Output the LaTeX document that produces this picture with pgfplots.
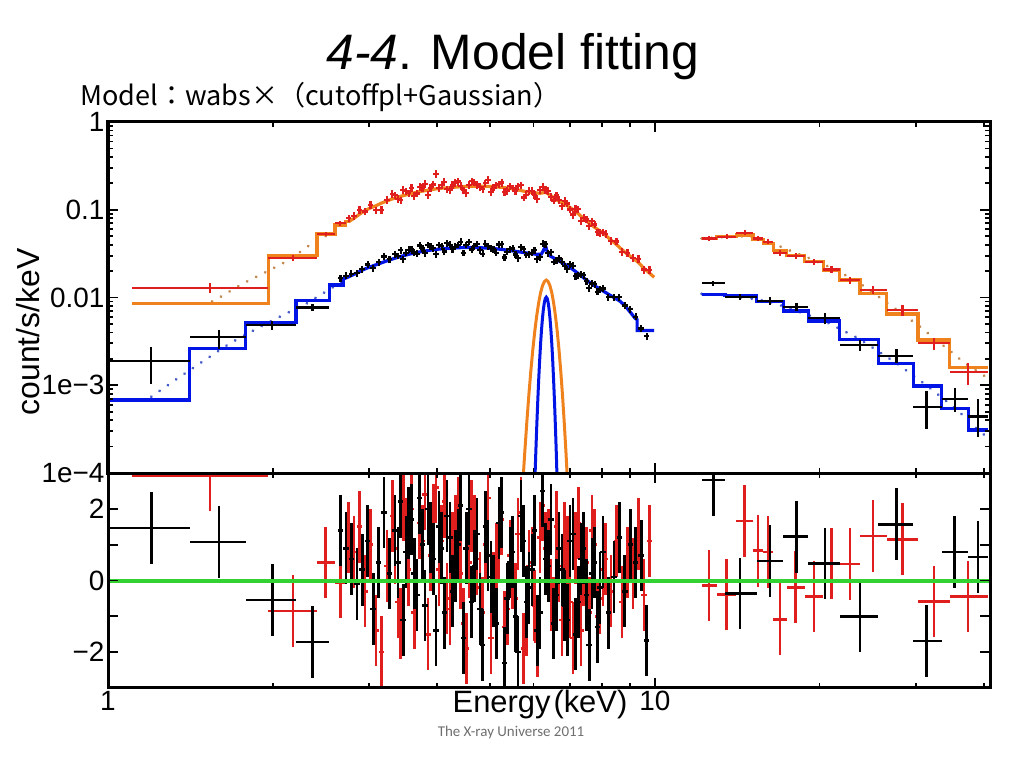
\documentclass[border=0pt]{standalone}
\usepackage{fontspec}
\setmainfont{Liberation Sans}
\newfontfamily\cjk{Noto Sans CJK JP}
\newfontfamily\footfont{Carlito}
\usepackage{graphicx}
\usepackage{pgfplots}
\usepackage{pgfplotstable}
\pgfplotsset{compat=1.18}
\definecolor{dred}{RGB}{225,30,30}
\definecolor{orangem}{RGB}{240,130,30}
\definecolor{browndot}{RGB}{195,135,80}
\definecolor{bluem}{RGB}{0,20,230}
\definecolor{bluedot}{RGB}{70,90,200}
\definecolor{greenl}{RGB}{50,210,50}
\definecolor{footgray}{RGB}{110,110,110}

\pgfplotstableread{
E y r
2.754 0.0800 1.2
2.818 0.0851 0.8
2.884 0.0997 1.5
2.951 0.0956 -0.3
3.020 0.1134 1.0
3.090 0.0986 -1.4
3.162 0.1000 -2.0
3.236 0.1300 0.4
3.311 0.1522 1.8
3.388 0.1323 -0.6
3.467 0.1694 2.1
3.548 0.1536 0.3
3.631 0.1448 -0.9
3.715 0.1816 1.6
3.802 0.1967 2.4
3.890 0.1785 0.7
3.981 0.2550 2.6
4.074 0.1915 1.1
4.169 0.1709 -0.5
4.266 0.1930 0.9
4.365 0.2097 1.9
4.467 0.1663 -1.2
4.571 0.1924 0.5
4.677 0.2057 1.4
4.786 0.1820 -0.2
4.898 0.1998 1.0
5.012 0.1604 -1.6
5.129 0.1907 0.6
5.248 0.2045 1.7
5.370 0.1657 -0.8
5.495 0.1758 0.2
5.623 0.1855 1.3
5.754 0.1382 -1.9
5.888 0.1641 0.4
6.026 0.1473 -0.7
6.166 0.1688 1.2
6.310 0.1694 0.9
6.457 0.1404 -0.4
6.607 0.1456 1.5
6.761 0.1094 -1.1
6.918 0.1181 0.8
7.079 0.0881 -1.6
7.244 0.1015 1.6
7.413 0.0809 0.3
7.586 0.0650 -0.9
7.762 0.0680 1.0
7.943 0.0547 -0.5
8.128 0.0534 0.6
8.318 0.0439 -0.3
8.511 0.0435 1.1
8.710 0.0333 -0.6
8.913 0.0322 0.5
9.120 0.0284 0.2
9.333 0.0276 1.3
9.550 0.0208 -0.4
9.772 0.0207 1.1
3.350 0.1458 0.9
3.428 0.1284 -1.2
3.508 0.1628 1.3
3.589 0.1775 2.0
3.673 0.1534 -0.4
3.758 0.1773 1.1
3.846 0.1470 -1.5
3.936 0.1943 1.7
4.027 0.1787 0.3
4.121 0.2082 2.2
4.217 0.1675 -0.8
4.315 0.2013 1.4
4.416 0.1859 0.2
4.519 0.1565 -1.9
4.624 0.2116 1.8
4.732 0.1939 0.6
4.842 0.1717 -0.9
4.955 0.2184 2.3
5.070 0.1801 -0.2
5.188 0.1955 1.0
5.309 0.1599 -1.3
5.433 0.1848 0.7
5.559 0.1637 -0.5
5.689 0.1907 1.9
5.821 0.1468 -1.1
5.957 0.1638 0.5
6.095 0.1339 -1.7
6.237 0.1822 2.1
6.383 0.1636 1.0
6.531 0.1276 -0.9
6.683 0.1290 0.4
6.839 0.1266 1.2
6.998 0.1009 -0.6
7.161 0.1024 0.9
7.328 0.0750 -1.4
7.499 0.0775 0.5
7.674 0.0739 1.4
7.852 0.0552 -1.0
8.035 0.0553 0.3
}\reddense

\pgfplotstableread{
E y r
2.661 0.01668 1.4
2.723 0.01769 0.9
2.786 0.01865 0.6
2.851 0.01885 -0.1
2.917 0.02099 0.3
2.985 0.02372 1.1
3.055 0.02153 -0.8
3.126 0.02517 0.5
3.199 0.02938 1.9
3.273 0.02723 0.2
3.350 0.03125 1.4
3.428 0.03446 2.2
3.508 0.03245 0.8
3.589 0.03590 1.7
3.673 0.03156 -0.4
3.758 0.03618 1.0
3.846 0.03979 2.0
3.936 0.03668 0.6
4.027 0.03987 1.5
4.121 0.03350 -0.9
4.217 0.04000 1.2
4.315 0.03798 0.4
4.416 0.04322 2.1
4.519 0.03977 0.9
4.624 0.03532 -0.6
4.732 0.04085 1.3
4.842 0.03150 -1.8
4.955 0.03854 0.7
5.070 0.03523 -0.3
5.188 0.04016 1.6
5.309 0.02856 -2.3
5.433 0.03567 0.5
5.559 0.03091 -1.0
5.689 0.03764 1.8
5.821 0.03065 -0.6
5.957 0.03236 0.3
6.095 0.02753 -1.4
6.237 0.04100 2.5
6.383 0.03199 0.4
6.531 0.02549 -1.2
6.683 0.02787 0.9
6.839 0.02266 -0.7
6.998 0.02394 1.1
7.161 0.01742 -1.5
7.328 0.01855 0.6
7.499 0.01529 -0.4
7.674 0.01443 0.2
7.852 0.01165 -1.3
8.035 0.01266 0.8
8.222 0.01012 -0.9
8.414 0.01008 0.1
8.610 0.01008 1.2
8.810 0.00810 -0.3
9.016 0.00734 1.0
9.226 0.00603 0.5
9.441 0.00444 0.7
9.661 0.00364 -1.67
3.388 0.02985 0.5
3.467 0.02727 -1.1
3.548 0.03502 1.6
3.631 0.03261 0.2
3.715 0.03913 2.3
3.802 0.03200 -0.7
3.890 0.03798 1.2
3.981 0.03135 -1.4
4.074 0.03843 0.9
4.169 0.04153 1.8
4.266 0.03577 -0.3
4.365 0.03985 1.0
4.467 0.03231 -1.6
4.571 0.04304 2.0
4.677 0.03824 0.4
4.786 0.03454 -0.8
4.898 0.04105 1.5
5.012 0.03659 0.1
5.129 0.03241 -1.2
5.248 0.04067 1.9
5.370 0.03326 -0.5
5.495 0.03612 0.8
5.623 0.02793 -2.0
5.754 0.03541 1.1
5.888 0.03139 -0.2
6.026 0.03481 1.4
6.166 0.02886 -0.9
6.310 0.04056 0.6
6.457 0.03306 1.7
6.607 0.02623 -0.4
6.761 0.02560 0.3
6.918 0.02098 -1.1
7.079 0.02307 1.3
7.244 0.01785 -0.6
7.413 0.01796 0.9
7.586 0.01284 -1.8
7.762 0.01414 0.5
7.943 0.01225 -0.2
}\blackdense

\pgfplotstableread{
E xm xp y ym yp r
1.537 0.432 0.426 0.0129 0.0017 0.0017 2.93
2.18 0.217 0.23 0.0284 0.0020 0.0020 -0.85
2.50 0.09 0.10 0.0530 0.0030 0.0030 0.50
2.66 0.06 0.06 0.0700 0.0040 0.0040 -0.05
12.56 0.39 0.41 0.0470 0.0030 0.0030 -0.14
13.53 0.56 0.57 0.0493 0.0030 0.0030 -0.39
14.60 0.50 0.52 0.0548 0.0035 0.0035 1.66
15.45 0.33 0.33 0.0470 0.0030 0.0030 0.83
16.11 0.33 0.35 0.0432 0.0030 0.0030 0.80
16.93 0.47 0.48 0.0324 0.0025 0.0025 -1.08
18.10 0.69 0.70 0.0298 0.0025 0.0025 -0.19
19.54 0.74 0.77 0.0256 0.0020 0.0020 -0.45
21.04 0.73 0.75 0.0208 0.0020 0.0020 0.47
22.73 0.94 0.98 0.0158 0.0015 0.0015 0.46
25.07 1.36 1.45 0.0122 0.0012 0.0012 1.24
28.37 1.85 1.92 0.0072 0.0010 0.0010 1.15
32.41 2.12 2.21 0.0030 0.0005 0.0005 -0.59
37.40 2.78 3.28 0.00143 0.00042 0.00035 -0.45
}\redx

\pgfplotstableread{
E xm xp y ym yp r
1.20 0.20 0.21 0.0019 0.00086 0.0008 1.46
1.597 0.187 0.188 0.00357 0.001 0.0007 1.08
1.997 0.212 0.21 0.00486 0.0006 0.0006 -0.54
2.365 0.158 0.175 0.0077 0.0007 0.0007 -1.72
12.79 0.62 0.64 0.0145 0.0008 0.0008 2.8
14.30 0.87 1.05 0.0102 0.0009 0.0009 -0.36
16.23 0.88 0.94 0.0092 0.0009 0.0009 0.54
18.16 0.99 0.91 0.00785 0.0008 0.0008 1.22
20.46 1.39 1.33 0.0058 0.0008 0.0008 0.47
23.71 1.92 1.89 0.00287 0.0004 0.0004 -1.0
27.66 2.06 2.00 0.00217 0.0004 0.0004 1.57
31.38 1.72 2.05 0.00057 0.00025 0.0003 -1.69
35.35 1.92 2.05 0.00069 0.0002 0.00025 0.8
39.0 1.60 1.68 0.00044 0.00018 0.00025 0.66
}\blackx

\begin{document}
\begin{tikzpicture}
\useasboundingbox (0,0) rectangle (1024bp,768bp);

% ---------------- top panel ----------------
\begin{axis}[
  scale only axis, width=882bp, height=351bp,
  at={(108bp,295bp)}, anchor=south west,
  xmode=log, ymode=log, xmin=1, xmax=41, ymin=1e-4, ymax=1,
  axis on top,
  axis line style={line width=3bp},
  tick style={line width=1.8bp, black},
  major tick length=10bp, minor tick length=5bp, tick align=inside,
  xtick={1,10}, minor xtick={2,3,4,5,6,7,8,9,20,30,40},
  xticklabels={,},
  ticklabel style={font=\fontsize{28}{30}\selectfont},
  ytick={1e-4,1e-3,1e-2,1e-1,1},
  yticklabels={1e−4,1e−3,0.01,0.1,1},
  minor ytick={2e-4,3e-4,4e-4,5e-4,6e-4,7e-4,8e-4,9e-4,
               2e-3,3e-3,4e-3,5e-3,6e-3,7e-3,8e-3,9e-3,
               0.02,0.03,0.04,0.05,0.06,0.07,0.08,0.09,
               0.2,0.3,0.4,0.5,0.6,0.7,0.8,0.9},
]
% dotted continuum components
\addplot[browndot, line width=3bp, line cap=round, dash pattern=on 0.1bp off 10bp] coordinates {
(1.55,0.0090) (1.59,0.0098) (1.767,0.0145) (1.95,0.0197) (2.15,0.027) (2.31,0.0377) (2.5,0.050) (2.72,0.069)};
\addplot[browndot, line width=3bp, line cap=round, dash pattern=on 0.1bp off 10bp] coordinates {
(12.17,0.047) (13.5,0.049) (14.6,0.050) (15.5,0.047) (16.5,0.041) (17.5,0.035) (18.8,0.0295) (20.3,0.024) (21.8,0.0195) (23.7,0.0145) (25.1,0.0113) (26.5,0.0088) (28.3,0.0066) (30.9,0.0044) (32.4,0.0034) (34.6,0.0025) (36.4,0.0019) (38.5,0.0015) (40.7,0.0012)};
\addplot[bluedot, line width=3bp, line cap=round, dash pattern=on 0.1bp off 10bp] coordinates {
(1.2,0.00074) (1.354,0.00125) (1.473,0.00178) (1.67,0.0030) (1.95,0.00508) (2.31,0.0086) (2.6,0.0135) (2.72,0.0160)};
\addplot[bluedot, line width=3bp, line cap=round, dash pattern=on 0.1bp off 10bp] coordinates {
(12.17,0.0110) (13.7,0.0106) (16.2,0.0090) (18.1,0.0071) (20.4,0.0054) (23.6,0.0034) (27.6,0.0018) (31.5,0.00098) (35.4,0.00055) (39,0.00031) (40.7,0.00025)};

% orange model (red data)
\addplot[orangem, line width=3.2bp, const plot] coordinates {
(1.105,0.00859) (1.963,0.030) (2.41,0.0529) (2.60,0.067) (2.72,0.073) (2.754,0.073)};
\addplot[orangem, line width=3.2bp] coordinates {
(2.754,0.073) (2.818,0.080) (2.884,0.089) (2.951,0.098) (3.020,0.105) (3.090,0.111) (3.162,0.119) (3.236,0.126) (3.311,0.133) (3.388,0.139) (3.467,0.145) (3.548,0.150) (3.631,0.156) (3.715,0.161) (3.802,0.165) (3.890,0.169) (3.981,0.173) (4.074,0.176) (4.169,0.178) (4.266,0.180) (4.365,0.182) (4.467,0.184) (4.571,0.185) (4.677,0.185) (4.786,0.185) (4.898,0.185) (5.012,0.184) (5.129,0.182) (5.248,0.180) (5.370,0.177) (5.495,0.173) (5.623,0.168) (5.754,0.163) (5.888,0.159) (6.026,0.156) (6.166,0.154) (6.310,0.158) (6.457,0.145) (6.607,0.130) (6.761,0.120) (6.918,0.111) (7.079,0.101) (7.244,0.090) (7.413,0.079) (7.586,0.070) (7.762,0.063) (7.943,0.057) (8.128,0.051) (8.318,0.045) (8.511,0.040) (8.710,0.035) (8.913,0.031) (9.120,0.028) (9.333,0.025) (9.550,0.0215) (9.772,0.019) (9.97,0.0170)};
\addplot[orangem, line width=3.2bp, const plot] coordinates {
(12.17,0.0475) (12.97,0.0500) (14.10,0.0515) (15.12,0.046) (15.78,0.0414) (16.46,0.034) (17.41,0.030) (18.80,0.0256) (20.31,0.0206) (21.79,0.0158) (23.71,0.0112) (26.52,0.0065) (30.29,0.00328) (34.62,0.0016) (40.68,0.0016)};

% red data
\addplot[draw=none, mark=none, forget plot, error bars/.cd, x dir=both, x fixed relative=0.0116, y dir=both, y fixed relative=0.10,
  error mark=none, error bar style={line width=2.2bp, draw=dred}] table[x=E,y=y] {\reddense};
\addplot[draw=none, mark=none, forget plot, error bars/.cd, x dir=both, x explicit, y dir=both, y explicit,
  error mark=none, error bar style={line width=2.2bp, draw=dred}]
  table[x=E, y=y, x error minus=xm, x error plus=xp, y error minus=ym, y error plus=yp] {\redx};

% blue model (black data)
\addplot[bluem, line width=3.2bp, const plot] coordinates {
(1.0,0.00068) (1.41,0.00264) (1.785,0.00516) (2.207,0.0092) (2.54,0.0139) (2.69,0.0166) (2.72,0.0166)};
\addplot[bluem, line width=3.2bp] coordinates {
(2.72,0.0166) (2.786,0.0178) (2.851,0.0190) (2.917,0.0205) (2.985,0.0218) (3.055,0.0230) (3.126,0.0242) (3.199,0.0255) (3.273,0.0268) (3.350,0.0281) (3.428,0.0293) (3.508,0.0305) (3.589,0.0316) (3.673,0.0326) (3.758,0.0335) (3.846,0.0343) (3.936,0.0350) (4.027,0.0356) (4.121,0.0361) (4.217,0.0365) (4.315,0.0368) (4.416,0.0370) (4.519,0.0371) (4.624,0.0371) (4.732,0.0370) (4.842,0.0368) (4.955,0.0365) (5.070,0.0361) (5.188,0.0356) (5.309,0.0350) (5.433,0.0343) (5.559,0.0336) (5.689,0.0329) (5.821,0.0322) (5.957,0.0316) (6.095,0.0310) (6.20,0.0312) (6.25,0.0340) (6.31,0.0387) (6.36,0.0330) (6.42,0.0300) (6.531,0.0282) (6.683,0.0260) (6.839,0.0240) (6.998,0.0220) (7.161,0.0198) (7.328,0.0177) (7.499,0.0158) (7.674,0.0142) (7.852,0.0130) (8.035,0.0119) (8.222,0.0109) (8.414,0.0100) (8.610,0.0092) (8.810,0.0081) (9.016,0.0068) (9.20,0.0058) (9.28,0.0056) (9.28,0.0042) (9.97,0.0042)};
\addplot[bluem, line width=3.2bp, const plot] coordinates {
(12.17,0.0108) (13.43,0.0105) (15.35,0.0090) (17.17,0.0070) (19.07,0.0054) (21.79,0.0033) (25.60,0.00178) (29.66,0.00098) (33.43,0.000546) (37.40,0.000309) (40.68,0.000309)};

% black data
\addplot[draw=none, mark=none, forget plot, error bars/.cd, x dir=both, x fixed relative=0.0116, y dir=both, y fixed relative=0.09,
  error mark=none, error bar style={line width=2.2bp, draw=black}] table[x=E,y=y] {\blackdense};
\addplot[draw=none, mark=none, forget plot, error bars/.cd, x dir=both, x explicit, y dir=both, y explicit,
  error mark=none, error bar style={line width=2.2bp, draw=black}]
  table[x=E, y=y, x error minus=xm, x error plus=xp, y error minus=ym, y error plus=yp] {\blackx};

% Gaussian line components
\addplot[orangem, line width=3bp] coordinates {
(5.72,5.8e-5) (5.78,1.66e-4) (5.83,3.66e-4) (5.88,7.49e-4) (5.93,1.42e-3) (5.98,2.50e-3) (6.03,4.08e-3) (6.08,6.17e-3) (6.13,8.66e-3) (6.18,1.13e-2) (6.23,1.36e-2) (6.28,1.52e-2) (6.33,1.58e-2) (6.38,1.52e-2) (6.43,1.36e-2) (6.48,1.13e-2) (6.53,8.66e-3) (6.58,6.17e-3) (6.63,4.08e-3) (6.68,2.50e-3) (6.73,1.42e-3) (6.78,7.49e-4) (6.83,3.66e-4) (6.88,1.66e-4) (6.94,5.8e-5)};
\addplot[bluem, line width=3bp] coordinates {
(6.03,7.2e-5) (6.055,1.59e-4) (6.08,3.27e-4) (6.105,6.26e-4) (6.13,1.12e-3) (6.155,1.88e-3) (6.18,2.94e-3) (6.205,4.29e-3) (6.23,5.83e-3) (6.255,7.42e-3) (6.28,8.81e-3) (6.305,9.76e-3) (6.33,1.01e-2) (6.355,9.76e-3) (6.38,8.81e-3) (6.405,7.42e-3) (6.43,5.83e-3) (6.455,4.29e-3) (6.48,2.94e-3) (6.505,1.88e-3) (6.53,1.12e-3) (6.555,6.26e-4) (6.58,3.27e-4) (6.605,1.59e-4) (6.63,7.2e-5)};
\end{axis}

% ---------------- residual panel ----------------
\begin{axis}[
  scale only axis, width=882bp, height=215bp,
  at={(108bp,80bp)}, anchor=south west,
  xmode=log, xmin=1, xmax=41, ymin=-3, ymax=3,
  axis on top,
  axis line style={line width=3bp},
  tick style={line width=1.8bp, black},
  major tick length=10bp, minor tick length=5bp, tick align=inside,
  xtick={1,10}, minor xtick={2,3,4,5,6,7,8,9,20,30,40},
  xticklabels={1,10},
  ticklabel style={font=\fontsize{28}{30}\selectfont},
  ytick={-2,-1,0,1,2}, yticklabels={−2,,0,,2},
]
\addplot[draw=none, mark=none, forget plot, error bars/.cd, x dir=both, x fixed relative=0.0116, y dir=both, y fixed=1,
  error mark=none, error bar style={line width=2.6bp, draw=dred}] table[x=E,y=r] {\reddense};
\addplot[draw=none, mark=none, forget plot, error bars/.cd, x dir=both, x explicit, y dir=both, y fixed=1,
  error mark=none, error bar style={line width=2.6bp, draw=dred}]
  table[x=E, y=r, x error minus=xm, x error plus=xp] {\redx};
\addplot[draw=none, mark=none, forget plot, error bars/.cd, x dir=both, x fixed relative=0.0116, y dir=both, y fixed=1,
  error mark=none, error bar style={line width=2.6bp, draw=black}] table[x=E,y=r] {\blackdense};
\addplot[draw=none, mark=none, forget plot, error bars/.cd, x dir=both, x explicit, y dir=both, y fixed=1,
  error mark=none, error bar style={line width=2.6bp, draw=black}]
  table[x=E, y=r, x error minus=xm, x error plus=xp] {\blackx};
\addplot[greenl, line width=4bp] coordinates {(1,0) (41,0)};
\end{axis}

% ---------------- texts ----------------
\node[anchor=base] at (513bp,698bp) {\fontsize{50}{54}\selectfont\textit{4-4}. Model fitting};
\node[anchor=base west, inner sep=0pt] at (80bp,662bp) {\resizebox{480bp}{!}{\cjk Model：wabs×（cutoffpl+Gaussian）}};
\node[rotate=90] at (28bp,436bp) {\fontsize{32}{34}\selectfont count/s/keV};
\node at (540bp,63bp) {\fontsize{31}{33}\selectfont Energy\hspace{3bp}(keV)};
\node[text=footgray] at (511bp,35bp) {\footfont\fontsize{15}{17}\selectfont The X-ray Universe 2011};
\end{tikzpicture}
\end{document}
